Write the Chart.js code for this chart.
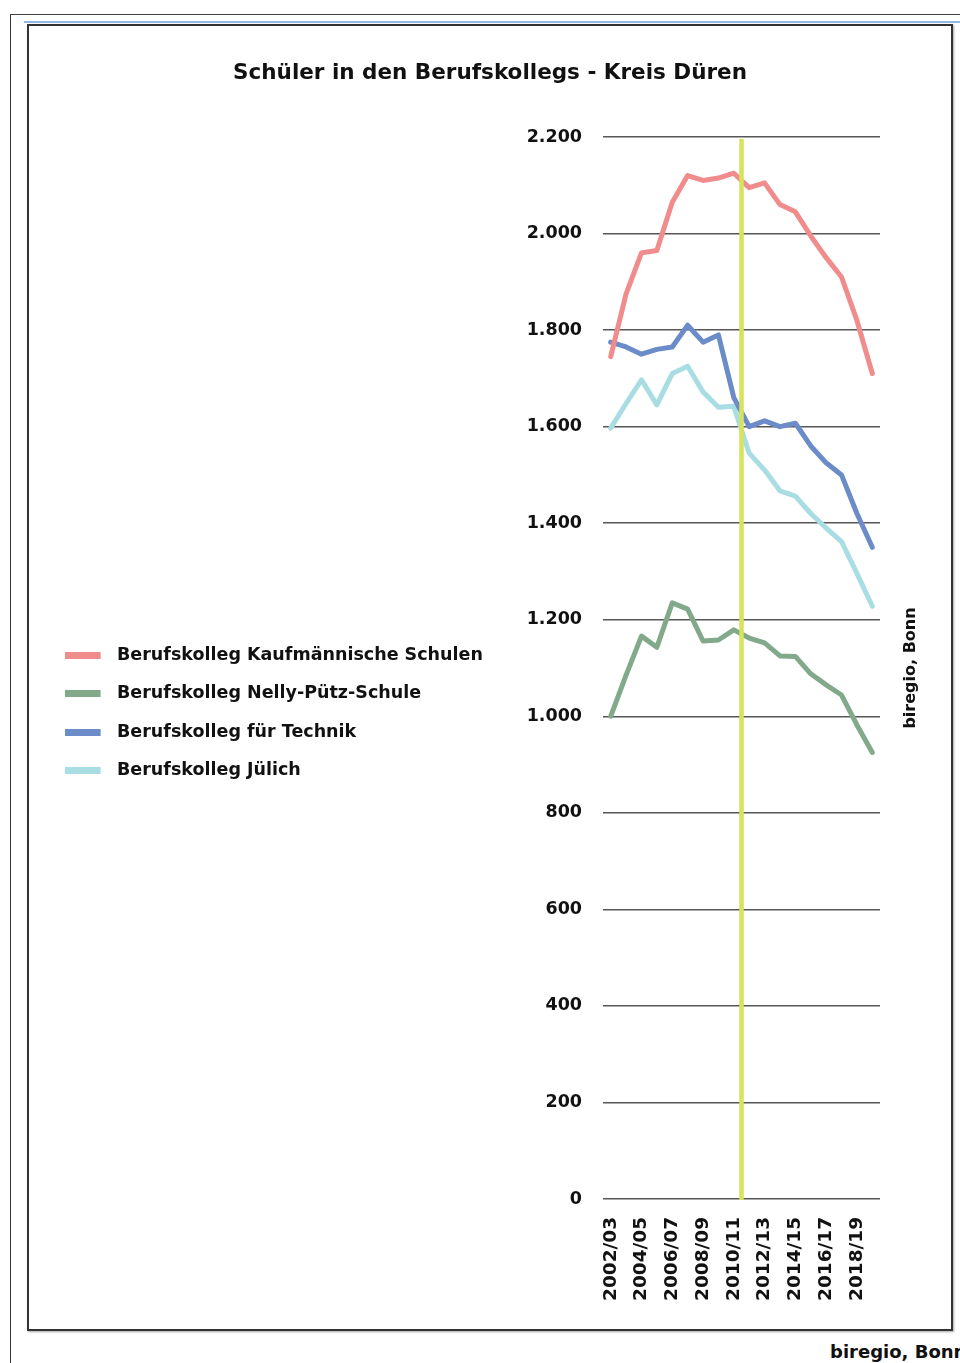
<!DOCTYPE html>
<html lang="de">
<head>
<meta charset="utf-8">
<title>Schüler in den Berufskollegs - Kreis Düren</title>
<script src="https://cdn.jsdelivr.net/npm/chart.js@4.4.1/dist/chart.umd.min.js"></script>
<style>
  html, body { margin: 0; padding: 0; background: #fff; }
  body { width: 960px; height: 1363px; position: relative; overflow: hidden; }
  .frame-outer { position: absolute; left: 10px; top: 14px; width: 980px; height: 1400px;
                 border-left: 1.5px solid #333; border-top: 1.5px solid #444; }
  .rule { position: absolute; left: 24px; top: 21px; width: 950px; height: 2px; background: #93b9e3; }
  .box { position: absolute; left: 27px; top: 24px; width: 922px; height: 1303px;
         border: 2px solid #333; box-shadow: 1px 1px 2px rgba(0,0,0,.35); background: #fff; }
  .box canvas { display: block; }
  .credit { position: absolute; left: 830px; top: 1341px; font: bold 18px 'DejaVu Sans', sans-serif;
            color: #111; white-space: nowrap; }
</style>
</head>
<body>
<div class="frame-outer"></div>
<div class="rule"></div>
<div class="box"><canvas id="chart" width="922" height="1303"></canvas></div>
<div class="credit">biregio, Bonn</div>

<script>
// School years (only every second one is labelled on the axis)
const schoolYears = [
  '2002/03', '2003/04', '2004/05', '2005/06', '2006/07', '2007/08',
  '2008/09', '2009/10', '2010/11', '2011/12', '2012/13', '2013/14',
  '2014/15', '2015/16', '2016/17', '2017/18', '2018/19', '2019/20'
];

// Pupils per vocational college
const kaufmaennisch = [1745, 1875, 1960, 1965, 2065, 2120, 2110, 2115, 2125, 2095, 2105, 2060, 2045, 1995, 1950, 1910, 1820, 1710];
const nellyPuetz    = [1000, 1085, 1166, 1143, 1235, 1222, 1156, 1158, 1179, 1162, 1152, 1125, 1124, 1088, 1065, 1044,  982,  925];
const technik       = [1775, 1765, 1750, 1760, 1765, 1810, 1775, 1790, 1660, 1600, 1612, 1600, 1607, 1560, 1525, 1500, 1420, 1350];
const juelich       = [1597, 1648, 1697, 1645, 1710, 1725, 1672, 1640, 1642, 1545, 1510, 1467, 1456, 1420, 1390, 1362, 1296, 1228];

const seriesNames = [
  'Berufskolleg Kaufmännische Schulen',
  'Berufskolleg Nelly-Pütz-Schule',
  'Berufskolleg für Technik',
  'Berufskolleg Jülich'
];
const seriesColors = ['#f08c8c', '#82aa8a', '#6b8cc9', '#a8dee3'];

// Value axis
const yMin = 0;
const yMax = 2200;
const yStep = 200;

// Marker between 2010/11 and 2011/12
const markerPosition = 8.5;
const markerColor = '#d6e35c';

const FONT = 'DejaVu Sans';
const TEXT = '#111111';

const fmt = v => String(v).replace(/\B(?=(\d{3})+(?!\d))/g, '.');

// Small swatch images for the legend (bar on the left, transparent gap on the right)
function swatch(color) {
  const c = document.createElement('canvas');
  c.width = 44; c.height = 7;
  const g = c.getContext('2d');
  g.fillStyle = color;
  g.fillRect(0, 0, 36, 7);
  return c;
}
const swatches = seriesColors.map(swatch);

const PAD_SIDE = 15;
const PLOT_LEFT = 574;
const RIGHT_MARGIN = 56;

const markerPlugin = {
  id: 'yearMarker',
  afterDatasetsDraw(chart) {
    const {ctx, chartArea, scales} = chart;
    const x = scales.x.getPixelForValue(markerPosition);
    ctx.save();
    ctx.strokeStyle = markerColor;
    ctx.lineWidth = 4.5;
    ctx.beginPath();
    ctx.moveTo(x, chartArea.top + 2);
    ctx.lineTo(x, chartArea.bottom + 1);
    ctx.stroke();
    ctx.restore();
  }
};

const sourcePlugin = {
  id: 'sourceNote',
  afterDraw(chart) {
    const {ctx, chartArea} = chart;
    ctx.save();
    ctx.translate(chartArea.right + 31, (chartArea.top + chartArea.bottom) / 2);
    ctx.rotate(-Math.PI / 2);
    ctx.font = 'bold 16px "' + FONT + '"';
    ctx.fillStyle = TEXT;
    ctx.textAlign = 'center';
    ctx.textBaseline = 'middle';
    ctx.fillText('biregio, Bonn', 0, 0);
    ctx.restore();
  }
};

const values = [kaufmaennisch, nellyPuetz, technik, juelich];

new Chart(document.getElementById('chart'), {
  type: 'line',
  data: {
    labels: schoolYears,
    datasets: values.map((data, i) => ({
      label: seriesNames[i],
      data,
      borderColor: seriesColors[i],
      backgroundColor: seriesColors[i],
      borderWidth: 5,
      pointRadius: 0,
      pointHoverRadius: 0,
      tension: 0,
      fill: false,
      borderJoinStyle: 'round',
      borderCapStyle: 'round'
    }))
  },
  options: {
    responsive: false,
    animation: false,
    devicePixelRatio: 1,
    events: [],
    layout: { padding: { left: PAD_SIDE, right: PAD_SIDE, top: 0, bottom: 0 } },
    plugins: {
      tooltip: { enabled: false },
      title: {
        display: true,
        text: 'Schüler in den Berufskollegs - Kreis Düren',
        color: TEXT,
        font: { family: FONT, size: 21.5, weight: 'bold', lineHeight: 1.2 },
        padding: { top: 35, bottom: 50.2 }
      },
      legend: {
        position: 'left',
        align: 'center',
        maxWidth: 1000,
        title: { display: true, text: '', font: { size: 10, lineHeight: 1 }, padding: { top: 60.5, bottom: 0 } },
        labels: {
          usePointStyle: true,
          pointStyleWidth: 43.25,
          padding: 21,
          color: TEXT,
          font: { family: FONT, size: 17.5, weight: 'bold' },
          generateLabels: () => seriesNames.map((name, i) => ({
            text: name,
            fillStyle: seriesColors[i],
            strokeStyle: seriesColors[i],
            lineWidth: 0,
            pointStyle: swatches[i],
            hidden: false,
            datasetIndex: i,
            fontColor: TEXT
          }))
        }
      }
    },
    scales: {
      x: {
        offset: true,
        border: { display: false },
        grid: { display: false, drawTicks: false },
        ticks: {
          autoSkip: false,
          maxRotation: 90,
          minRotation: 90,
          padding: 18,
          color: TEXT,
          font: { family: FONT, size: 18.5, weight: 'bold' },
          callback: (v, i) => (i % 2 === 0 ? schoolYears[i] : '')
        },
        afterFit: s => { s.height = 130; }
      },
      y: {
        min: yMin,
        max: yMax,
        border: { display: false },
        grid: { color: '#575757', lineWidth: 1.5, drawTicks: false },
        ticks: {
          stepSize: yStep,
          padding: 21,
          color: TEXT,
          font: { family: FONT, size: 17.5, weight: 'bold' },
          callback: v => fmt(v)
        },
        afterFit: s => { s.width = PLOT_LEFT - PAD_SIDE - s.chart.legend.width; }
      },
      // empty right-hand margin that holds the rotated source note
      yNote: {
        position: 'right',
        min: yMin,
        max: yMax,
        border: { display: false },
        grid: { display: false, drawTicks: false },
        ticks: { display: false },
        afterFit: s => { s.width = RIGHT_MARGIN; }
      }
    }
  },
  plugins: [markerPlugin, sourcePlugin]
});
</script>
</body>
</html>
